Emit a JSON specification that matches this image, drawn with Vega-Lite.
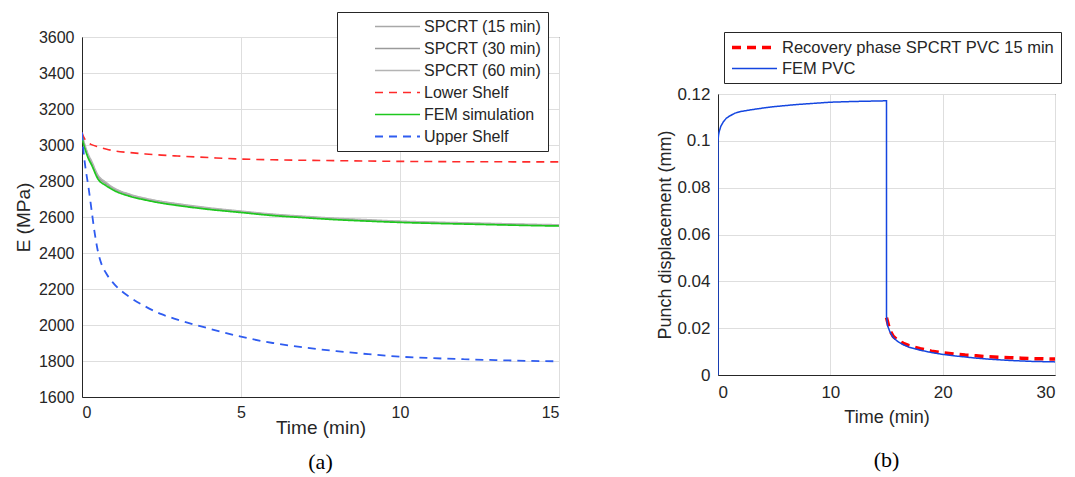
{
  "$schema": "https://vega.github.io/schema/vega-lite/v6.json",
  "background": "white",
  "padding": {"left": 13, "top": 11, "right": 2, "bottom": 2},
  "config": {
    "font": "Liberation Sans",
    "view": {"stroke": "#262626", "strokeWidth": 1},
    "axis": {
      "labelFont": "Liberation Sans", "labelFontSize": 16, "labelColor": "#262626",
      "titleFont": "Liberation Sans", "titleFontSize": 18, "titleFontWeight": "normal", "titleColor": "#262626",
      "ticks": false, "gridColor": "#dedede", "gridWidth": 1, "domainColor": "#262626", "domainWidth": 1,
      "labelPadding": 9
    },
    "legend": {"labelFont": "Liberation Sans", "labelColor": "#262626"},
    "title": {"font": "Liberation Serif", "fontSize": 22, "fontWeight": "normal", "color": "black"}
  },
  "spacing": 96,
  "resolve": {
    "scale": {"x": "independent", "y": "independent", "color": "independent", "strokeDash": "independent", "strokeWidth": "independent"},
    "legend": {"color": "independent", "strokeDash": "independent", "strokeWidth": "independent"}
  },
  "hconcat": [
    {
      "width": 477,
      "height": 360,
      "title": {"text": "(a)", "orient": "bottom", "offset": 15},
      "data": {"values": [
        {"s":"SPCRT (15 min)","t":0,"E":3060},{"s":"SPCRT (15 min)","t":0.05,"E":3020},{"s":"SPCRT (15 min)","t":0.1,"E":2990},{"s":"SPCRT (15 min)","t":0.2,"E":2940},{"s":"SPCRT (15 min)","t":0.3,"E":2905},{"s":"SPCRT (15 min)","t":0.5,"E":2830},{"s":"SPCRT (15 min)","t":0.75,"E":2790},{"s":"SPCRT (15 min)","t":1,"E":2760},{"s":"SPCRT (15 min)","t":1.5,"E":2725},{"s":"SPCRT (15 min)","t":2,"E":2702},{"s":"SPCRT (15 min)","t":2.5,"E":2685},{"s":"SPCRT (15 min)","t":3,"E":2672},{"s":"SPCRT (15 min)","t":4,"E":2649},{"s":"SPCRT (15 min)","t":5,"E":2631},{"s":"SPCRT (15 min)","t":6,"E":2614},{"s":"SPCRT (15 min)","t":7,"E":2602},{"s":"SPCRT (15 min)","t":8,"E":2591},{"s":"SPCRT (15 min)","t":9,"E":2582},{"s":"SPCRT (15 min)","t":10,"E":2575},{"s":"SPCRT (15 min)","t":11,"E":2570},{"s":"SPCRT (15 min)","t":12,"E":2566},{"s":"SPCRT (15 min)","t":13,"E":2562},{"s":"SPCRT (15 min)","t":14,"E":2558},{"s":"SPCRT (15 min)","t":15,"E":2555},
        {"s":"SPCRT (30 min)","t":0,"E":3055},{"s":"SPCRT (30 min)","t":0.05,"E":3013},{"s":"SPCRT (30 min)","t":0.1,"E":2983},{"s":"SPCRT (30 min)","t":0.2,"E":2935},{"s":"SPCRT (30 min)","t":0.3,"E":2900},{"s":"SPCRT (30 min)","t":0.5,"E":2824},{"s":"SPCRT (30 min)","t":0.75,"E":2785},{"s":"SPCRT (30 min)","t":1,"E":2756},{"s":"SPCRT (30 min)","t":1.5,"E":2721},{"s":"SPCRT (30 min)","t":2,"E":2698},{"s":"SPCRT (30 min)","t":2.5,"E":2681},{"s":"SPCRT (30 min)","t":3,"E":2668},{"s":"SPCRT (30 min)","t":4,"E":2645},{"s":"SPCRT (30 min)","t":5,"E":2628},{"s":"SPCRT (30 min)","t":6,"E":2611},{"s":"SPCRT (30 min)","t":7,"E":2599},{"s":"SPCRT (30 min)","t":8,"E":2588},{"s":"SPCRT (30 min)","t":9,"E":2579},{"s":"SPCRT (30 min)","t":10,"E":2572},{"s":"SPCRT (30 min)","t":11,"E":2567},{"s":"SPCRT (30 min)","t":12,"E":2563},{"s":"SPCRT (30 min)","t":13,"E":2559},{"s":"SPCRT (30 min)","t":14,"E":2555},{"s":"SPCRT (30 min)","t":15,"E":2552},
        {"s":"SPCRT (60 min)","t":0,"E":3065},{"s":"SPCRT (60 min)","t":0.05,"E":3025},{"s":"SPCRT (60 min)","t":0.1,"E":2997},{"s":"SPCRT (60 min)","t":0.2,"E":2947},{"s":"SPCRT (60 min)","t":0.3,"E":2912},{"s":"SPCRT (60 min)","t":0.5,"E":2834},{"s":"SPCRT (60 min)","t":0.75,"E":2793},{"s":"SPCRT (60 min)","t":1,"E":2762},{"s":"SPCRT (60 min)","t":1.5,"E":2727},{"s":"SPCRT (60 min)","t":2,"E":2704},{"s":"SPCRT (60 min)","t":2.5,"E":2687},{"s":"SPCRT (60 min)","t":3,"E":2674},{"s":"SPCRT (60 min)","t":4,"E":2651},{"s":"SPCRT (60 min)","t":5,"E":2633},{"s":"SPCRT (60 min)","t":6,"E":2616},{"s":"SPCRT (60 min)","t":7,"E":2604},{"s":"SPCRT (60 min)","t":8,"E":2593},{"s":"SPCRT (60 min)","t":9,"E":2585},{"s":"SPCRT (60 min)","t":10,"E":2577},{"s":"SPCRT (60 min)","t":11,"E":2572},{"s":"SPCRT (60 min)","t":12,"E":2568},{"s":"SPCRT (60 min)","t":13,"E":2564},{"s":"SPCRT (60 min)","t":14,"E":2560},{"s":"SPCRT (60 min)","t":15,"E":2557},
        {"s":"Lower Shelf","t":0,"E":3070},{"s":"Lower Shelf","t":0.05,"E":3045},{"s":"Lower Shelf","t":0.1,"E":3030},{"s":"Lower Shelf","t":0.2,"E":3012},{"s":"Lower Shelf","t":0.3,"E":3002},{"s":"Lower Shelf","t":0.5,"E":2990},{"s":"Lower Shelf","t":0.75,"E":2978},{"s":"Lower Shelf","t":1,"E":2968},{"s":"Lower Shelf","t":1.5,"E":2958},{"s":"Lower Shelf","t":2,"E":2950},{"s":"Lower Shelf","t":2.5,"E":2944},{"s":"Lower Shelf","t":3,"E":2939},{"s":"Lower Shelf","t":4,"E":2930},{"s":"Lower Shelf","t":5,"E":2922},{"s":"Lower Shelf","t":6,"E":2918},{"s":"Lower Shelf","t":7,"E":2915},{"s":"Lower Shelf","t":8,"E":2913},{"s":"Lower Shelf","t":9,"E":2911},{"s":"Lower Shelf","t":10,"E":2909},{"s":"Lower Shelf","t":11,"E":2908},{"s":"Lower Shelf","t":12,"E":2907},{"s":"Lower Shelf","t":13,"E":2907},{"s":"Lower Shelf","t":14,"E":2906},{"s":"Lower Shelf","t":15,"E":2906},
        {"s":"FEM simulation","t":0,"E":3050},{"s":"FEM simulation","t":0.05,"E":3005},{"s":"FEM simulation","t":0.1,"E":2975},{"s":"FEM simulation","t":0.2,"E":2925},{"s":"FEM simulation","t":0.3,"E":2890},{"s":"FEM simulation","t":0.5,"E":2812},{"s":"FEM simulation","t":0.75,"E":2775},{"s":"FEM simulation","t":1,"E":2748},{"s":"FEM simulation","t":1.5,"E":2715},{"s":"FEM simulation","t":2,"E":2694},{"s":"FEM simulation","t":2.5,"E":2677},{"s":"FEM simulation","t":3,"E":2664},{"s":"FEM simulation","t":4,"E":2642},{"s":"FEM simulation","t":5,"E":2625},{"s":"FEM simulation","t":6,"E":2608},{"s":"FEM simulation","t":7,"E":2596},{"s":"FEM simulation","t":8,"E":2585},{"s":"FEM simulation","t":9,"E":2577},{"s":"FEM simulation","t":10,"E":2570},{"s":"FEM simulation","t":11,"E":2565},{"s":"FEM simulation","t":12,"E":2561},{"s":"FEM simulation","t":13,"E":2557},{"s":"FEM simulation","t":14,"E":2553},{"s":"FEM simulation","t":15,"E":2550},
        {"s":"Upper Shelf","t":0,"E":3070},{"s":"Upper Shelf","t":0.05,"E":2960},{"s":"Upper Shelf","t":0.1,"E":2885},{"s":"Upper Shelf","t":0.2,"E":2770},{"s":"Upper Shelf","t":0.3,"E":2640},{"s":"Upper Shelf","t":0.4,"E":2510},{"s":"Upper Shelf","t":0.5,"E":2410},{"s":"Upper Shelf","t":0.6,"E":2345},{"s":"Upper Shelf","t":0.75,"E":2290},{"s":"Upper Shelf","t":1,"E":2230},{"s":"Upper Shelf","t":1.5,"E":2155},{"s":"Upper Shelf","t":2,"E":2102},{"s":"Upper Shelf","t":2.5,"E":2060},{"s":"Upper Shelf","t":3,"E":2030},{"s":"Upper Shelf","t":4,"E":1980},{"s":"Upper Shelf","t":5,"E":1935},{"s":"Upper Shelf","t":6,"E":1900},{"s":"Upper Shelf","t":7,"E":1875},{"s":"Upper Shelf","t":8,"E":1855},{"s":"Upper Shelf","t":9,"E":1838},{"s":"Upper Shelf","t":10,"E":1824},{"s":"Upper Shelf","t":11,"E":1816},{"s":"Upper Shelf","t":12,"E":1810},{"s":"Upper Shelf","t":13,"E":1805},{"s":"Upper Shelf","t":14,"E":1801},{"s":"Upper Shelf","t":15,"E":1798}
      ]},
      "mark": {"type": "line", "clip": true, "interpolate": "monotone"},
      "encoding": {
        "x": {"field": "t", "type": "quantitative", "scale": {"domain": [0, 15], "nice": false},
              "axis": {"title": "Time (min)", "values": [0, 5, 10, 15], "labelPadding": 7, "titlePadding": -2, "titleFontSize": 19}},
        "y": {"field": "E", "type": "quantitative", "scale": {"domain": [1600, 3600], "nice": false, "zero": false},
              "axis": {"title": "E (MPa)", "values": [1600,1800,2000,2200,2400,2600,2800,3000,3200,3400,3600], "format": "d", "labelPadding": 8, "titlePadding": 5, "titleFontSize": 19}},
        "color": {"field": "s", "type": "nominal",
          "scale": {"domain": ["SPCRT (15 min)","SPCRT (30 min)","SPCRT (60 min)","Lower Shelf","FEM simulation","Upper Shelf"],
                    "range": ["#a8a8a8","#9a9a9a","#b4b4b4","#ff2a2a","#1ec81e","#2f5cf0"]},
          "legend": {"title": null, "orient": "none", "legendX": 255, "legendY": -25, "symbolType": "M-3,0H3", "symbolSize": 225,
                     "strokeColor": "#262626", "fillColor": "white", "padding": 6, "labelFontSize": 16, "rowPadding": 5,
                     "symbolOffset": 46, "labelOffset": 18}},
        "strokeDash": {"field": "s", "type": "nominal",
          "scale": {"domain": ["SPCRT (15 min)","SPCRT (30 min)","SPCRT (60 min)","Lower Shelf","FEM simulation","Upper Shelf"],
                    "range": [[1,0],[1,0],[1,0],[8,6],[1,0],[8,6]]},
          "legend": {"title": null, "orient": "none", "legendX": 255, "legendY": -25, "symbolType": "M-3,0H3", "symbolSize": 225,
                     "strokeColor": "#262626", "fillColor": "white", "padding": 6, "labelFontSize": 16, "rowPadding": 5,
                     "symbolOffset": 46, "labelOffset": 18}},
        "strokeWidth": {"field": "s", "type": "nominal",
          "scale": {"domain": ["SPCRT (15 min)","SPCRT (30 min)","SPCRT (60 min)","Lower Shelf","FEM simulation","Upper Shelf"],
                    "range": [1.3, 1.8, 1.3, 1.2, 1.8, 1.5]},
          "legend": {"title": null, "orient": "none", "legendX": 255, "legendY": -25, "symbolType": "M-3,0H3", "symbolSize": 225,
                     "strokeColor": "#262626", "fillColor": "white", "padding": 6, "labelFontSize": 16, "rowPadding": 5,
                     "symbolOffset": 46, "labelOffset": 18}}
      }
    },
    {
      "spacing": 0,
      "resolve": {
        "scale": {"color": "independent", "strokeDash": "independent", "strokeWidth": "independent"},
        "legend": {"color": "independent", "strokeDash": "independent", "strokeWidth": "independent"}
      },
      "vconcat": [
        {
          "width": 337,
          "height": 44,
          "view": {"stroke": null},
          "data": {"values": [{"c": "Recovery phase SPCRT PVC 15 min"}, {"c": "FEM PVC"}]},
          "mark": {"type": "line"},
          "encoding": {
            "color": {"field": "c", "type": "nominal",
              "scale": {"domain": ["Recovery phase SPCRT PVC 15 min", "FEM PVC"], "range": ["#ff0000", "#1446e0"]},
              "legend": {"title": null, "orient": "none", "legendX": 6, "legendY": -5, "symbolType": "M-3,0H3", "symbolSize": 225,
                         "strokeColor": "#262626", "fillColor": "white", "padding": 6, "labelFontSize": 16.5, "rowPadding": 4, "labelLimit": 400,
                         "symbolOffset": 15, "labelOffset": 18}},
            "strokeDash": {"field": "c", "type": "nominal",
              "scale": {"domain": ["Recovery phase SPCRT PVC 15 min", "FEM PVC"], "range": [[9, 6], [1, 0]]},
              "legend": {"title": null, "orient": "none", "legendX": 6, "legendY": -5, "symbolType": "M-3,0H3", "symbolSize": 225,
                         "strokeColor": "#262626", "fillColor": "white", "padding": 6, "labelFontSize": 16.5, "rowPadding": 4, "labelLimit": 400,
                         "symbolOffset": 15, "labelOffset": 18}},
            "strokeWidth": {"field": "c", "type": "nominal",
              "scale": {"domain": ["Recovery phase SPCRT PVC 15 min", "FEM PVC"], "range": [3.5, 1.5]},
              "legend": {"title": null, "orient": "none", "legendX": 6, "legendY": -5, "symbolType": "M-3,0H3", "symbolSize": 225,
                         "strokeColor": "#262626", "fillColor": "white", "padding": 6, "labelFontSize": 16.5, "rowPadding": 4, "labelLimit": 400,
                         "symbolOffset": 15, "labelOffset": 18}}
          }
        },
        {
          "width": 337,
          "height": 281,
          "title": {"text": "(b)", "orient": "bottom", "offset": 24},
          "data": {"values": [
            {"c":"Recovery phase SPCRT PVC 15 min","i":0,"t":15,"v":0.0245},{"c":"Recovery phase SPCRT PVC 15 min","i":1,"t":15.3,"v":0.019},{"c":"Recovery phase SPCRT PVC 15 min","i":2,"t":15.6,"v":0.0165},{"c":"Recovery phase SPCRT PVC 15 min","i":3,"t":16,"v":0.0148},{"c":"Recovery phase SPCRT PVC 15 min","i":4,"t":16.5,"v":0.0135},{"c":"Recovery phase SPCRT PVC 15 min","i":5,"t":17,"v":0.0125},{"c":"Recovery phase SPCRT PVC 15 min","i":6,"t":18,"v":0.0112},{"c":"Recovery phase SPCRT PVC 15 min","i":7,"t":19,"v":0.0102},{"c":"Recovery phase SPCRT PVC 15 min","i":8,"t":20,"v":0.0095},{"c":"Recovery phase SPCRT PVC 15 min","i":9,"t":21,"v":0.009},{"c":"Recovery phase SPCRT PVC 15 min","i":10,"t":22,"v":0.0085},{"c":"Recovery phase SPCRT PVC 15 min","i":11,"t":23,"v":0.0082},{"c":"Recovery phase SPCRT PVC 15 min","i":12,"t":24,"v":0.0078},{"c":"Recovery phase SPCRT PVC 15 min","i":13,"t":25,"v":0.0076},{"c":"Recovery phase SPCRT PVC 15 min","i":14,"t":26,"v":0.0074},{"c":"Recovery phase SPCRT PVC 15 min","i":15,"t":27,"v":0.0072},{"c":"Recovery phase SPCRT PVC 15 min","i":16,"t":28,"v":0.007},{"c":"Recovery phase SPCRT PVC 15 min","i":17,"t":29,"v":0.0069},{"c":"Recovery phase SPCRT PVC 15 min","i":18,"t":30,"v":0.0068},
            {"c":"FEM PVC","i":0,"t":0,"v":0},{"c":"FEM PVC","i":1,"t":0,"v":0.1},{"c":"FEM PVC","i":2,"t":0.05,"v":0.1025},{"c":"FEM PVC","i":3,"t":0.1,"v":0.1038},{"c":"FEM PVC","i":4,"t":0.25,"v":0.1062},{"c":"FEM PVC","i":5,"t":0.5,"v":0.1083},{"c":"FEM PVC","i":6,"t":0.75,"v":0.1097},{"c":"FEM PVC","i":7,"t":1,"v":0.1105},{"c":"FEM PVC","i":8,"t":1.5,"v":0.1118},{"c":"FEM PVC","i":9,"t":2,"v":0.1125},{"c":"FEM PVC","i":10,"t":3,"v":0.1133},{"c":"FEM PVC","i":11,"t":4,"v":0.114},{"c":"FEM PVC","i":12,"t":5,"v":0.1146},{"c":"FEM PVC","i":13,"t":7,"v":0.1155},{"c":"FEM PVC","i":14,"t":10,"v":0.1165},{"c":"FEM PVC","i":15,"t":12,"v":0.1168},{"c":"FEM PVC","i":16,"t":15,"v":0.1171},{"c":"FEM PVC","i":17,"t":15,"v":0.025},{"c":"FEM PVC","i":18,"t":15.1,"v":0.021},{"c":"FEM PVC","i":19,"t":15.3,"v":0.0185},{"c":"FEM PVC","i":20,"t":15.6,"v":0.016},{"c":"FEM PVC","i":21,"t":16,"v":0.0143},{"c":"FEM PVC","i":22,"t":16.5,"v":0.0129},{"c":"FEM PVC","i":23,"t":17,"v":0.0119},{"c":"FEM PVC","i":24,"t":18,"v":0.0106},{"c":"FEM PVC","i":25,"t":19,"v":0.0096},{"c":"FEM PVC","i":26,"t":20,"v":0.0088},{"c":"FEM PVC","i":27,"t":21,"v":0.0082},{"c":"FEM PVC","i":28,"t":22,"v":0.0077},{"c":"FEM PVC","i":29,"t":23,"v":0.0072},{"c":"FEM PVC","i":30,"t":24,"v":0.0068},{"c":"FEM PVC","i":31,"t":25,"v":0.0065},{"c":"FEM PVC","i":32,"t":26,"v":0.0062},{"c":"FEM PVC","i":33,"t":27,"v":0.006},{"c":"FEM PVC","i":34,"t":28,"v":0.0058},{"c":"FEM PVC","i":35,"t":29,"v":0.0057},{"c":"FEM PVC","i":36,"t":30,"v":0.0056}
          ]},
          "mark": {"type": "line", "clip": true},
          "encoding": {
            "x": {"field": "t", "type": "quantitative", "scale": {"domain": [0, 30], "nice": false},
                  "axis": {"title": "Time (min)", "values": [0, 10, 20, 30], "labelFontSize": 17, "titlePadding": 8}},
            "y": {"field": "v", "type": "quantitative", "scale": {"domain": [0, 0.12], "nice": false},
                  "axis": {"title": "Punch displacement (mm)", "values": [0, 0.02, 0.04, 0.06, 0.08, 0.1, 0.12], "format": ".2~f", "labelFontSize": 17, "labelPadding": 8, "titlePadding": 2}},
            "order": {"field": "i", "type": "quantitative"},
            "color": {"field": "c", "type": "nominal",
              "scale": {"domain": ["Recovery phase SPCRT PVC 15 min", "FEM PVC"], "range": ["#ff0000", "#1446e0"]}, "legend": null},
            "strokeDash": {"field": "c", "type": "nominal",
              "scale": {"domain": ["Recovery phase SPCRT PVC 15 min", "FEM PVC"], "range": [[9, 6], [1, 0]]}, "legend": null},
            "strokeWidth": {"field": "c", "type": "nominal",
              "scale": {"domain": ["Recovery phase SPCRT PVC 15 min", "FEM PVC"], "range": [3.5, 1.5]}, "legend": null}
          }
        }
      ]
    }
  ]
}
